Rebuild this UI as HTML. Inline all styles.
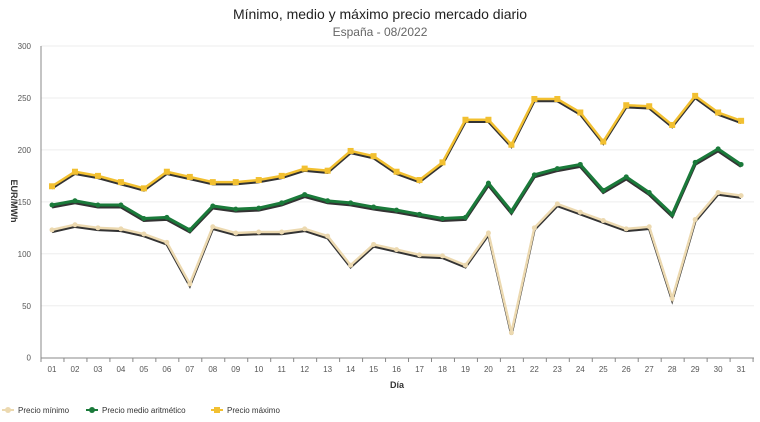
<!DOCTYPE html><html><head><meta charset="utf-8"><style>body{margin:0;background:#fff}svg{display:block;font-family:"Liberation Sans",sans-serif}</style></head><body>
<svg width="760" height="422" viewBox="0 0 760 422" xmlns="http://www.w3.org/2000/svg">
<text x="380" y="19" text-anchor="middle" font-size="14" fill="#222">Mínimo, medio y máximo precio mercado diario</text>
<text x="380" y="36" text-anchor="middle" font-size="12" fill="#666">España - 08/2022</text>
<g id="grid" stroke="#eee" stroke-width="1"></g>
<g id="ax"></g>
<text transform="translate(11,201) rotate(90)" text-anchor="middle" font-size="9" font-weight="bold" fill="#333">EUR/MWh</text>
<text x="397" y="388" text-anchor="middle" font-size="9" font-weight="bold" fill="#333">Día</text>
<g id="ser"></g>
<g font-size="8" fill="#333">
<line x1="2" y1="410" x2="14" y2="410" stroke="#ecd9b0" stroke-width="2"/><circle cx="8" cy="410" r="3" fill="#ecd9b0"/><text x="18" y="413">Precio mínimo</text>
<line x1="86" y1="410" x2="98" y2="410" stroke="#1a7a3a" stroke-width="2"/><circle cx="92" cy="410" r="3" fill="#1a7a3a"/><text x="102" y="413">Precio medio aritmético</text>
<line x1="211" y1="410" x2="223" y2="410" stroke="#f2c031" stroke-width="2"/><rect x="214" y="407" width="6" height="6" fill="#f2c031"/><text x="227" y="413">Precio máximo</text>
</g>
<script>
var ns="http://www.w3.org/2000/svg";
function el(p,t,a,txt){var e=document.createElementNS(ns,t);for(var k in a)e.setAttribute(k,a[k]);if(txt!==undefined)e.textContent=txt;p.appendChild(e);return e;}
function Y(v){return 357.7-v*(311.7/300);}
function X(i){return 52+i*22.97;}
var g=document.getElementById('grid'),ax=document.getElementById('ax'),s=document.getElementById('ser');
for(var v=0;v<=300;v+=50){if(v>0)el(g,'line',{x1:41,x2:754,y1:Y(v),y2:Y(v)});el(ax,'text',{x:31,y:Y(v)+3,'text-anchor':'end','font-size':8,fill:'#555'},v);}
el(ax,'line',{x1:41,x2:41,y1:46,y2:358,stroke:'#888'});
el(ax,'line',{x1:41,x2:754,y1:358,y2:358,stroke:'#888'});
for(var i=0;i<=31;i++){var xx=41+i*22.97;el(ax,'line',{x1:xx,x2:xx,y1:358,y2:362,stroke:'#888'});}
for(var i=0;i<31;i++)el(ax,'text',{x:X(i),y:372,'text-anchor':'middle','font-size':8,fill:'#555'},(i<9?'0':'')+(i+1));
var mx=[165,179,175,169,163,179,174,169,169,171,175,182,180,199,194,179,171,188,229,229,205,249,249,236,208,243,242,224,252,236,228];
var md=[147,151,147,147,134,135,123,146,143,144,149,157,151,149,145,142,138,134,135,168,141,176,182,186,161,174,159,138,188,201,186];
var mn=[123,128,125,124,119,111,71,126,120,121,121,124,117,89,109,104,99,98,89,120,24,125,148,140,132,124,126,57,133,159,156];
function series(d,c,w,m){var p=d.map(function(v,i){return X(i)+','+Y(v);}).join(' ');
var p2=d.map(function(v,i){return X(i)+','+(Y(v)+2);}).join(' ');
el(s,'polyline',{points:p2,fill:'none',stroke:'#333',
'stroke-width':w});el(s,'polyline',{points:p,fill:'none',stroke:c,'stroke-width':w});
d.forEach(function(v,i){if(m=='sq')el(s,'rect',{x:X(i)-3,y:Y(v)-3,width:6,height:6,fill:c});else el(s,'circle',{cx:X(i),cy:Y(v),r:2.5,fill:c});});}
series(mn,'#ecd9b0',2.5,'c');series(md,'#1a7a3a',3,'c');series(mx,'#f2c031',2.5,'sq');
</script>
</svg></body></html>
